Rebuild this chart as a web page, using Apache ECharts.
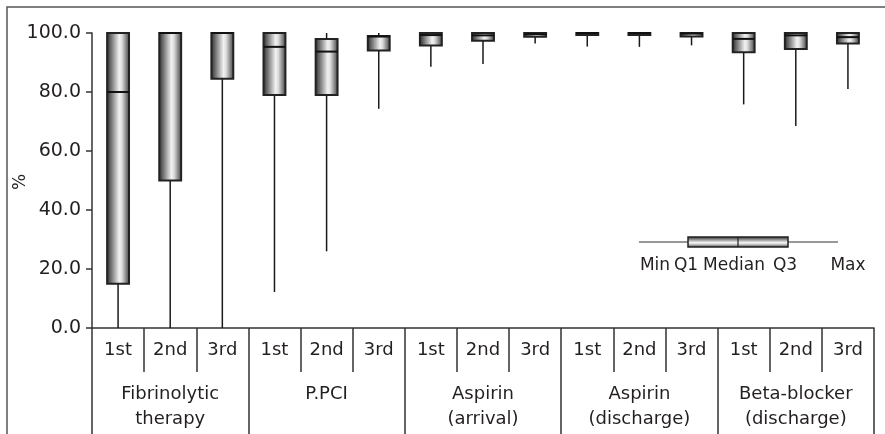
<!DOCTYPE html>
<html>
<head>
<meta charset="utf-8">
<script src="https://cdn.jsdelivr.net/npm/echarts@6/dist/echarts.min.js"></script>
<style>
  html, body { margin: 0; padding: 0; background: #fff; }
  #chart { width: 885px; height: 434px; }
</style>
</head>
<body>
<div id="chart"></div>
<script>
// Survey rounds within each indicator
const rounds = ['1st', '2nd', '3rd', '1st', '2nd', '3rd', '1st', '2nd', '3rd',
                '1st', '2nd', '3rd', '1st', '2nd', '3rd'];
// Indicator groups (three rounds each)
const groups = ['Fibrinolytic\ntherapy', 'P.PCI', 'Aspirin\n(arrival)',
                'Aspirin\n(discharge)', 'Beta-blocker\n(discharge)'];
// Five-number summaries (%)
const mins    = [0,   0,    0,    12.2, 26.0, 74.3, 88.6, 89.5, 96.4, 95.4, 95.3, 95.8, 75.8, 68.5, 81.0];
const q1s     = [15,  50,   84.5, 79.0, 79.0, 94.1, 95.8, 97.4, 98.7, 99.3, 99.3, 98.8, 93.5, 94.6, 96.4];
const medians = [80,  100,  100,  95.3, 93.7, 98.8, 99.3, 99.2, 99.6, 100,  100,  99.8, 98.0, 99.2, 98.6];
const q3s     = [100, 100,  100,  100,  98.0, 99.0, 100,  100,  100,  100,  100,  100,  100,  100,  100];
const maxs    = [100, 100,  100,  100,  100,  100,  100,  100,  100,  100,  100,  100,  100,  100,  100];
const yTicks  = [0, 20, 40, 60, 80, 100];
const yTitle  = '%';
// Key captions
const keyWords = ['Min', 'Q1', 'Median', 'Q3', 'Max'];

const FONT = 'DejaVu Sans';
const INK = '#231f20';

const boxData = rounds.map((r, i) => [i, mins[i], q1s[i], medians[i], q3s[i], maxs[i]]);

function cylinder(horizontal) {
  const stops = [
    { offset: 0, color: '#222' },
    { offset: 0.25, color: '#808080' },
    { offset: 0.55, color: '#f2f2f2' },
    { offset: 0.66, color: '#dcdcdc' },
    { offset: 1, color: '#353535' }
  ];
  return horizontal
    ? new echarts.graphic.LinearGradient(0, 0, 0, 1, stops)
    : new echarts.graphic.LinearGradient(0, 0, 1, 0, stops);
}

function renderBox(params, api) {
  const idx = api.value(0);
  const pMin = api.coord([idx, api.value(1)]);
  const pQ1 = api.coord([idx, api.value(2)]);
  const pMed = api.coord([idx, api.value(3)]);
  const pQ3 = api.coord([idx, api.value(4)]);
  const pMax = api.coord([idx, api.value(5)]);
  const w = api.size([1, 0])[0] * 0.42;
  const cx = pQ1[0];
  const lineStyle = { stroke: '#1a1a1a', lineWidth: 1.5 };
  return {
    type: 'group',
    children: [
      { type: 'line', shape: { x1: cx, y1: pMin[1], x2: cx, y2: pQ1[1] }, style: lineStyle },
      { type: 'line', shape: { x1: cx, y1: pQ3[1], x2: cx, y2: pMax[1] }, style: lineStyle },
      {
        type: 'rect',
        shape: { x: cx - w / 2, y: pQ3[1], width: w, height: Math.max(pQ1[1] - pQ3[1], 1) },
        style: { fill: cylinder(false), stroke: '#222', lineWidth: 2 }
      },
      { type: 'line', shape: { x1: cx - w / 2, y1: pMed[1], x2: cx + w / 2, y2: pMed[1] },
        style: { stroke: '#111', lineWidth: 2 } }
    ]
  };
}

const keyCenters = [655, 686, 734, 785, 848];
const keyText = keyWords.map((t, i) => ({
  type: 'text', silent: true, x: keyCenters[i], y: 266,
  style: { text: t, fontFamily: FONT, fontSize: 17, fill: INK, align: 'center', verticalAlign: 'middle' }
}));

const chart = echarts.init(document.getElementById('chart'), null, { renderer: 'canvas' });

chart.setOption({
  backgroundColor: '#fff',
  animation: false,
  grid: { left: 92, right: 11, top: 33, bottom: 106, outerBoundsMode: 'none', containLabel: false },
  xAxis: [
    {
      type: 'category',
      data: rounds,
      position: 'bottom',
      axisLine: { show: true, lineStyle: { color: '#333', width: 1.5 } },
      axisTick: { show: true, interval: 0, length: 44, lineStyle: { color: '#333', width: 1.5 } },
      axisLabel: { interval: 0, margin: 13, fontFamily: FONT, fontSize: 18, color: INK }
    },
    {
      type: 'category',
      data: groups,
      position: 'bottom',
      axisLine: { show: false },
      axisTick: { show: true, interval: 0, length: 110, lineStyle: { color: '#333', width: 1.5 } },
      axisLabel: { interval: 0, margin: 54, fontFamily: FONT, fontSize: 18, lineHeight: 25, color: INK }
    }
  ],
  yAxis: {
    type: 'value',
    min: yTicks[0],
    max: yTicks[yTicks.length - 1],
    interval: 20,
    axisLine: { show: true, lineStyle: { color: '#333', width: 1.5 } },
    axisTick: { show: true, length: 6, lineStyle: { color: '#333', width: 1.5 } },
    splitLine: { show: false },
    axisLabel: {
      margin: 11,
      fontFamily: FONT,
      fontSize: 19,
      color: INK,
      formatter: v => v.toFixed(1)
    }
  },
  series: [{
    type: 'custom',
    xAxisIndex: 0,
    renderItem: renderBox,
    encode: { x: 0, y: [1, 2, 3, 4, 5] },
    data: boxData
  }],
  graphic: [
    // outer frame (top and left edges)
    { type: 'polyline', silent: true,
      shape: { points: [[7, 440], [7, 7], [885, 7]] },
      style: { stroke: '#555', lineWidth: 1.5, fill: null } },
    // y-axis title
    { type: 'text', silent: true, x: 21, y: 182, rotation: Math.PI / 2,
      style: { text: yTitle, fontFamily: FONT, fontSize: 17, fill: INK,
               align: 'center', verticalAlign: 'middle' } },
    // key: horizontal box-and-whisker
    { type: 'line', silent: true, shape: { x1: 639, y1: 242, x2: 838, y2: 242 },
      style: { stroke: '#333', lineWidth: 1.2 } },
    { type: 'rect', silent: true, shape: { x: 688, y: 237, width: 100, height: 10 },
      style: { fill: cylinder(true), stroke: '#222', lineWidth: 1.5 } },
    { type: 'line', silent: true, shape: { x1: 738, y1: 237, x2: 738, y2: 247 },
      style: { stroke: '#222', lineWidth: 1.2 } }
  ].concat(keyText)
});
</script>
</body>
</html>
